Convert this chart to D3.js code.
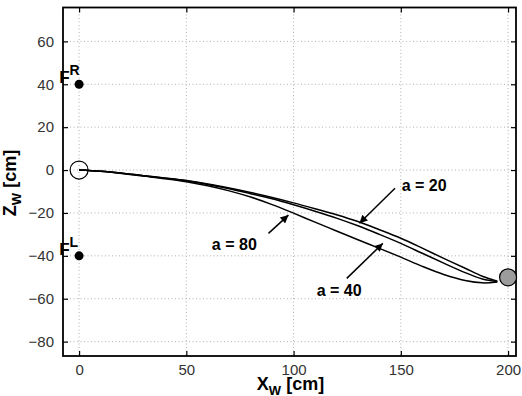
<!DOCTYPE html>
<html>
<head>
<meta charset="utf-8">
<script src="https://cdn.jsdelivr.net/npm/d3@7"></script>
<style>
  body { margin: 0; background: #fff; }
  svg { display: block; font-family: "Liberation Sans", Arial, sans-serif; }
  .tick text { font-size: 15px; fill: #333; }
  .lbl { font-weight: bold; fill: #000; }
</style>
</head>
<body>
<svg width="522" height="396"></svg>
<script>
// x positions along the trajectory [cm]
var xw = [0, 10, 20, 30, 40, 50, 60, 70, 80, 90, 100, 110, 120, 130, 140, 150, 160, 170, 180, 188, 195];
// z positions for each a
var zA20 = [0, -0.6, -1.5, -2.6, -3.7, -4.9, -6.5, -8.4, -10.5, -12.8, -15.3, -18, -20.8, -24, -27.8, -31.8, -36.4, -41.2, -45.8, -49.5, -51.8];
var zA40 = [0, -0.6, -1.5, -2.6, -3.8, -5.0, -6.7, -8.7, -11, -13.4, -16.2, -19.2, -22.4, -26, -30, -34.2, -38.8, -43.4, -47.8, -50.8, -52];
var zA80 = [0, -0.6, -1.6, -2.8, -4, -5.4, -7.3, -9.7, -12.6, -16.1, -20.1, -24.3, -28.4, -32.5, -36.5, -40.6, -44.9, -48.7, -51.5, -52.6, -52.2];

var xTicks = [0, 50, 100, 150, 200];
var yTicks = [-80, -60, -40, -20, 0, 20, 40, 60];

// feet and start / goal
var feet = [{name: "R", x: 0, z: 40}, {name: "L", x: 0, z: -40}];
var start = {x: 0, z: 0};
var goal = {x: 200, z: -50};

// annotations: label position, arrow tail, arrow tip (data units)
var notes = [
  {text: "a = 20", lx: 150.4, lz: -9.7, x1: 147.3, z1: -8.5, x2: 130.7, z2: -24.8},
  {text: "a = 80", lx: 61.9, lz: -37.3, x1: 88.3, z1: -29.5, x2: 97.6, z2: -21},
  {text: "a = 40", lx: 110.8, lz: -58.7, x1: 124.8, z1: -50.5, x2: 141.6, z2: -34.2}
];

var svg = d3.select("svg");
var pLeft = 63, pRight = 516, pTop = 7.5, pBottom = 356;

var x = d3.scaleLinear().domain([-7.5, 203.7]).range([pLeft, pRight]);
var y = d3.scaleLinear().domain([-86.7, 75.8]).range([pBottom, pTop]);

// grid
var grid = svg.append("g").attr("stroke", "#b0b0b0").attr("stroke-dasharray", "1,2.5").attr("stroke-width", 1);
grid.selectAll(".gx").data(xTicks).enter().append("line")
    .attr("x1", function(d) { return x(d); }).attr("x2", function(d) { return x(d); })
    .attr("y1", pTop).attr("y2", pBottom);
grid.selectAll(".gy").data(yTicks).enter().append("line")
    .attr("y1", function(d) { return y(d); }).attr("y2", function(d) { return y(d); })
    .attr("x1", pLeft).attr("x2", pRight);

// axes with inward ticks
var fmt = function(d) { return d < 0 ? "\u2212" + Math.abs(d) : d; };
svg.append("g").attr("transform", "translate(0," + pBottom + ")")
    .call(d3.axisBottom(x).tickValues(xTicks).tickSize(-5).tickPadding(8).tickFormat(fmt))
    .call(function(g) { g.select(".domain").remove(); });
svg.append("g").attr("transform", "translate(0," + pTop + ")")
    .call(d3.axisTop(x).tickValues(xTicks).tickSize(-5).tickFormat(""))
    .call(function(g) { g.select(".domain").remove(); });
svg.append("g").attr("transform", "translate(" + pLeft + ",0)")
    .call(d3.axisLeft(y).tickValues(yTicks).tickSize(-5).tickPadding(9).tickFormat(fmt))
    .call(function(g) { g.select(".domain").remove(); });
svg.append("g").attr("transform", "translate(" + pRight + ",0)")
    .call(d3.axisRight(y).tickValues(yTicks).tickSize(-5).tickFormat(""))
    .call(function(g) { g.select(".domain").remove(); });
svg.selectAll(".tick line").attr("stroke", "#000").attr("stroke-width", 1.2);

svg.append("rect").attr("x", pLeft).attr("y", pTop)
    .attr("width", pRight - pLeft).attr("height", pBottom - pTop)
    .attr("fill", "none").attr("stroke", "#000").attr("stroke-width", 1.8);

// trajectories
var line = d3.line().curve(d3.curveCatmullRom)
    .x(function(d) { return x(d[0]); }).y(function(d) { return y(d[1]); });
[zA20, zA40, zA80].forEach(function(zs) {
  svg.append("path").datum(xw.map(function(v, i) { return [v, zs[i]]; }))
      .attr("d", line).attr("fill", "none").attr("stroke", "#000").attr("stroke-width", 1.5);
});

// start and goal
svg.append("circle").attr("cx", x(start.x)).attr("cy", y(start.z)).attr("r", 9)
    .attr("fill", "none").attr("stroke", "#000").attr("stroke-width", 1.2);
svg.append("circle").attr("cx", x(goal.x)).attr("cy", y(goal.z)).attr("r", 8.5)
    .attr("fill", "#9c9c9c").attr("stroke", "#000").attr("stroke-width", 1.2);

// feet
svg.selectAll(".foot").data(feet).enter().append("circle")
    .attr("cx", function(d) { return x(d.x); }).attr("cy", function(d) { return y(d.z); })
    .attr("r", 4.5).attr("fill", "#000");
var ft = svg.selectAll(".ftxt").data(feet).enter().append("text")
    .attr("class", "lbl").attr("x", x(-9.3)).attr("y", function(d) { return y(d.z) - 1; })
    .style("font-size", "17px");
ft.append("tspan").text("F");
ft.append("tspan").attr("dy", -8).style("font-size", "14px").text(function(d) { return d.name; });

// arrows
svg.append("defs").append("marker").attr("id", "ah")
    .attr("viewBox", "0 0 10 10").attr("refX", 10).attr("refY", 5)
    .attr("markerWidth", 10).attr("markerHeight", 8).attr("markerUnits", "userSpaceOnUse")
    .attr("orient", "auto")
  .append("path").attr("d", "M0,0L10,5L0,10z").attr("fill", "#000");

notes.forEach(function(n) {
  svg.append("line").attr("x1", x(n.x1)).attr("y1", y(n.z1)).attr("x2", x(n.x2)).attr("y2", y(n.z2))
      .attr("stroke", "#000").attr("stroke-width", 1.5).attr("marker-end", "url(#ah)");
  svg.append("text").attr("class", "lbl").attr("x", x(n.lx)).attr("y", y(n.lz))
      .style("font-size", "16px").attr("xml:space", "preserve").text(n.text);
});

// axis labels
var xl = svg.append("text").attr("class", "lbl").attr("x", (pLeft + pRight) / 2 + 1).attr("y", 390)
    .attr("text-anchor", "middle").style("font-size", "18px");
xl.append("tspan").text("X");
xl.append("tspan").attr("dy", 5).style("font-size", "13px").text("W");
xl.append("tspan").attr("dy", -5).text(" [cm]");

var yl = svg.append("text").attr("class", "lbl")
    .attr("transform", "translate(16,183) rotate(-90)")
    .attr("text-anchor", "middle").style("font-size", "18px");
yl.append("tspan").text("Z");
yl.append("tspan").attr("dy", 5).style("font-size", "13px").text("W");
yl.append("tspan").attr("dy", -5).text(" [cm]");
</script>
</body>
</html>
